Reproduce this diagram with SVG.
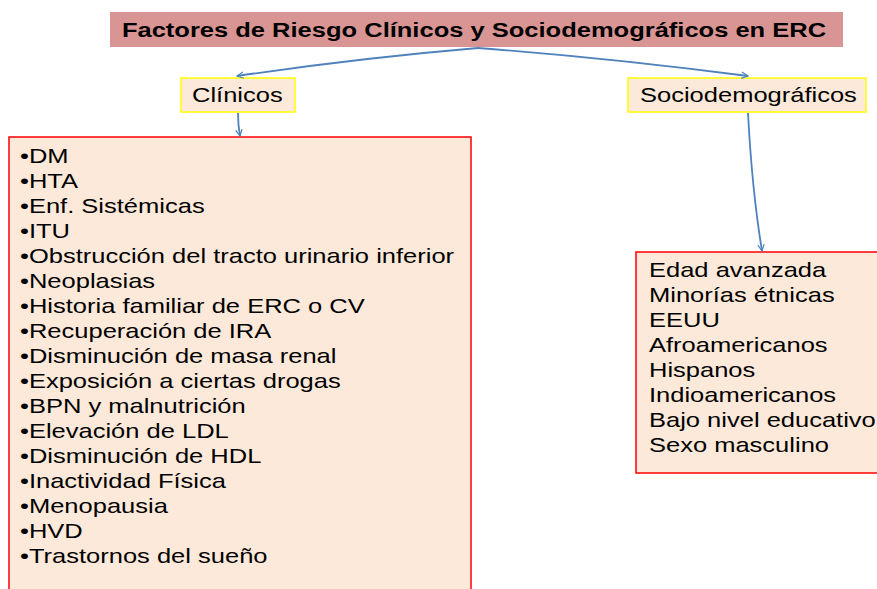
<svg xmlns="http://www.w3.org/2000/svg" width="877" height="589" viewBox="0 0 877 589">
<style>
text{font-family:"Liberation Sans",Arial,sans-serif;fill:#000;font-size:20.5px}
.title{font-size:20.5px;font-weight:bold}
.cat{fill:#FDE9D9;stroke:#FFFF00;stroke-width:1.5}
.list{fill:#FDE9D9;stroke:#FF0000;stroke-width:1.5}
.conn{fill:none;stroke:#4F81BD;stroke-width:1.8}
</style>
<defs>
<marker id="arr" viewBox="0 0 10 10" refX="9" refY="5" markerWidth="8" markerHeight="8" orient="auto" markerUnits="userSpaceOnUse">
<path d="M1,1 L9,5 L1,9" fill="none" stroke="#4F81BD" stroke-width="1.5"/>
</marker>
</defs>
<rect width="877" height="589" fill="#fff"/>
<g id="title">
<rect x="110" y="12" width="733" height="35" fill="#D99594"/>
<text class="title" transform="translate(474,37) scale(1.245,1)" text-anchor="middle">Factores de Riesgo Clínicos y Sociodemográficos en ERC</text>
</g>
<g id="clinicos">
<rect class="cat" x="181" y="78" width="114" height="34"/>
<text transform="translate(192,102) scale(1.245,1)">Clínicos</text>
</g>
<g id="socio">
<rect class="cat" x="628" y="78" width="238" height="34"/>
<text transform="translate(640,102) scale(1.245,1)">Sociodemográficos</text>
</g>
<g id="clinicos-list">
<rect class="list" x="9" y="137" width="462" height="460"/>
<g transform="translate(20,0) scale(1.245,1)">
<text y="163">•DM</text>
<text y="188">•HTA</text>
<text y="213">•Enf. Sistémicas</text>
<text y="238">•ITU</text>
<text y="263">•Obstrucción del tracto urinario inferior</text>
<text y="288">•Neoplasias</text>
<text y="313">•Historia familiar de ERC o CV</text>
<text y="338">•Recuperación de IRA</text>
<text y="363">•Disminución de masa renal</text>
<text y="388">•Exposición a ciertas drogas</text>
<text y="413">•BPN y malnutrición</text>
<text y="438">•Elevación de LDL</text>
<text y="463">•Disminución de HDL</text>
<text y="488">•Inactividad Física</text>
<text y="513">•Menopausia</text>
<text y="538">•HVD</text>
<text y="563">•Trastornos del sueño</text>
</g>
</g>
<g id="socio-list">
<rect class="list" x="636" y="252" width="250" height="221"/>
<g transform="translate(649,0) scale(1.245,1)">
<text y="277">Edad avanzada</text>
<text y="302">Minorías étnicas</text>
<text y="327">EEUU</text>
<text y="352">Afroamericanos</text>
<text y="377">Hispanos</text>
<text y="402">Indioamericanos</text>
<text y="427">Bajo nivel educativo</text>
<text y="452">Sexo masculino</text>
</g>
</g>
<g id="connectors">
<path class="conn" d="M478,48 Q360,58 237,76" marker-end="url(#arr)"/>
<path class="conn" d="M478,48 Q610,58 748,76" marker-end="url(#arr)"/>
<path class="conn" d="M238,113 Q238,125 240,136" marker-end="url(#arr)"/>
<path class="conn" d="M748,113 Q752,190 762,251" marker-end="url(#arr)"/>
</g>
</svg>
